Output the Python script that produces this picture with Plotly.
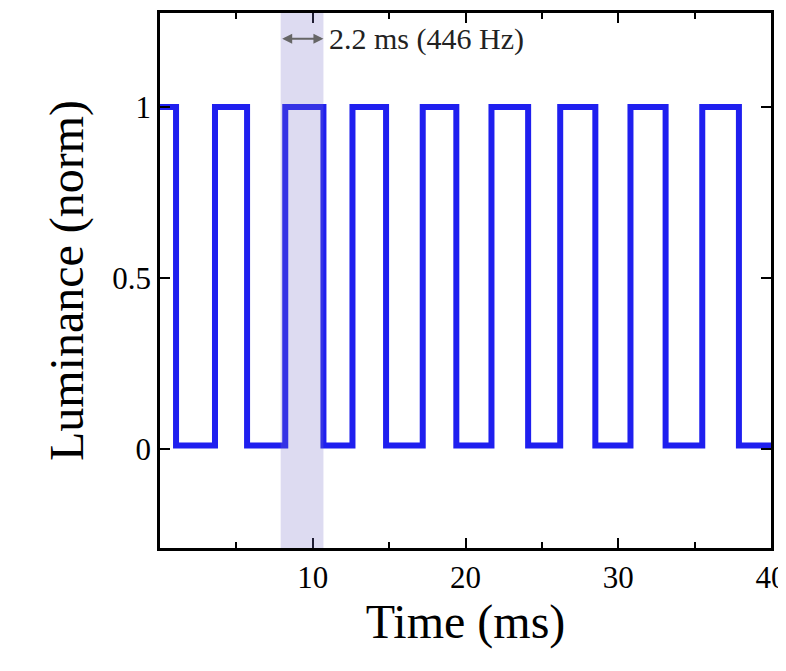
import plotly.graph_objects as go

# transition times (ms) of the square wave
edges = [0.0, 1.05, 3.6, 5.7, 8.2, 10.7, 12.6, 14.8, 17.2, 19.4, 21.7, 24.1, 26.2, 28.5, 30.8, 33.1, 35.5, 37.9, 40.0]
high, low = 1.0, 0.01

xs, ys = [], []
level = high
for i in range(len(edges) - 1):
    xs += [edges[i], edges[i + 1]]
    ys += [level, level]
    level = low if level == high else high

band = [7.9, 10.7]
label = "2.2 ms (446 Hz)"

fig = go.Figure()
fig.add_trace(go.Scatter(x=xs, y=ys, mode="lines", line=dict(color="#1f1fef", width=6), showlegend=False))
fig.add_vrect(x0=band[0], x1=band[1], fillcolor="rgba(120,110,200,0.25)", line_width=0, layer="above")
fig.add_annotation(x=band[1], y=1.2, ax=band[0], ay=1.2, xref="x", yref="y", axref="x", ayref="y",
                   showarrow=True, arrowhead=2, arrowside="end+start", arrowsize=1, arrowwidth=2,
                   arrowcolor="#666", text="")
fig.add_annotation(x=band[1] + 0.2, y=1.2, xref="x", yref="y", text=label, showarrow=False,
                   xanchor="left", font=dict(size=30, color="#222"))

axis_common = dict(showgrid=False, zeroline=False, showline=True, linecolor="black", linewidth=2.5,
                   mirror="ticks", ticks="inside", ticklen=10, tickwidth=2, tickcolor="black",
                   tickfont=dict(size=31, color="black"), automargin=False)
fig.update_xaxes(range=[0, 40], tickvals=[10, 20, 30, 40], minor=dict(tickvals=[5, 15, 25, 35], ticklen=6, ticks="inside", tickcolor="black"),
                 title=dict(text="Time (ms)", font=dict(size=48, color="black"), standoff=4), **axis_common)
fig.update_yaxes(range=[-0.29, 1.275], tickvals=[0, 0.5, 1], ticktext=["0", "0.5", "1"],
                 title=dict(text="Luminance (norm)", font=dict(size=48, color="black"), standoff=14), **axis_common)
fig.update_layout(width=786, height=671, paper_bgcolor="white", plot_bgcolor="white",
                  font=dict(family="Liberation Serif"),
                  margin=dict(l=152, r=23, t=5, b=131))
fig.write_html("out.html")
